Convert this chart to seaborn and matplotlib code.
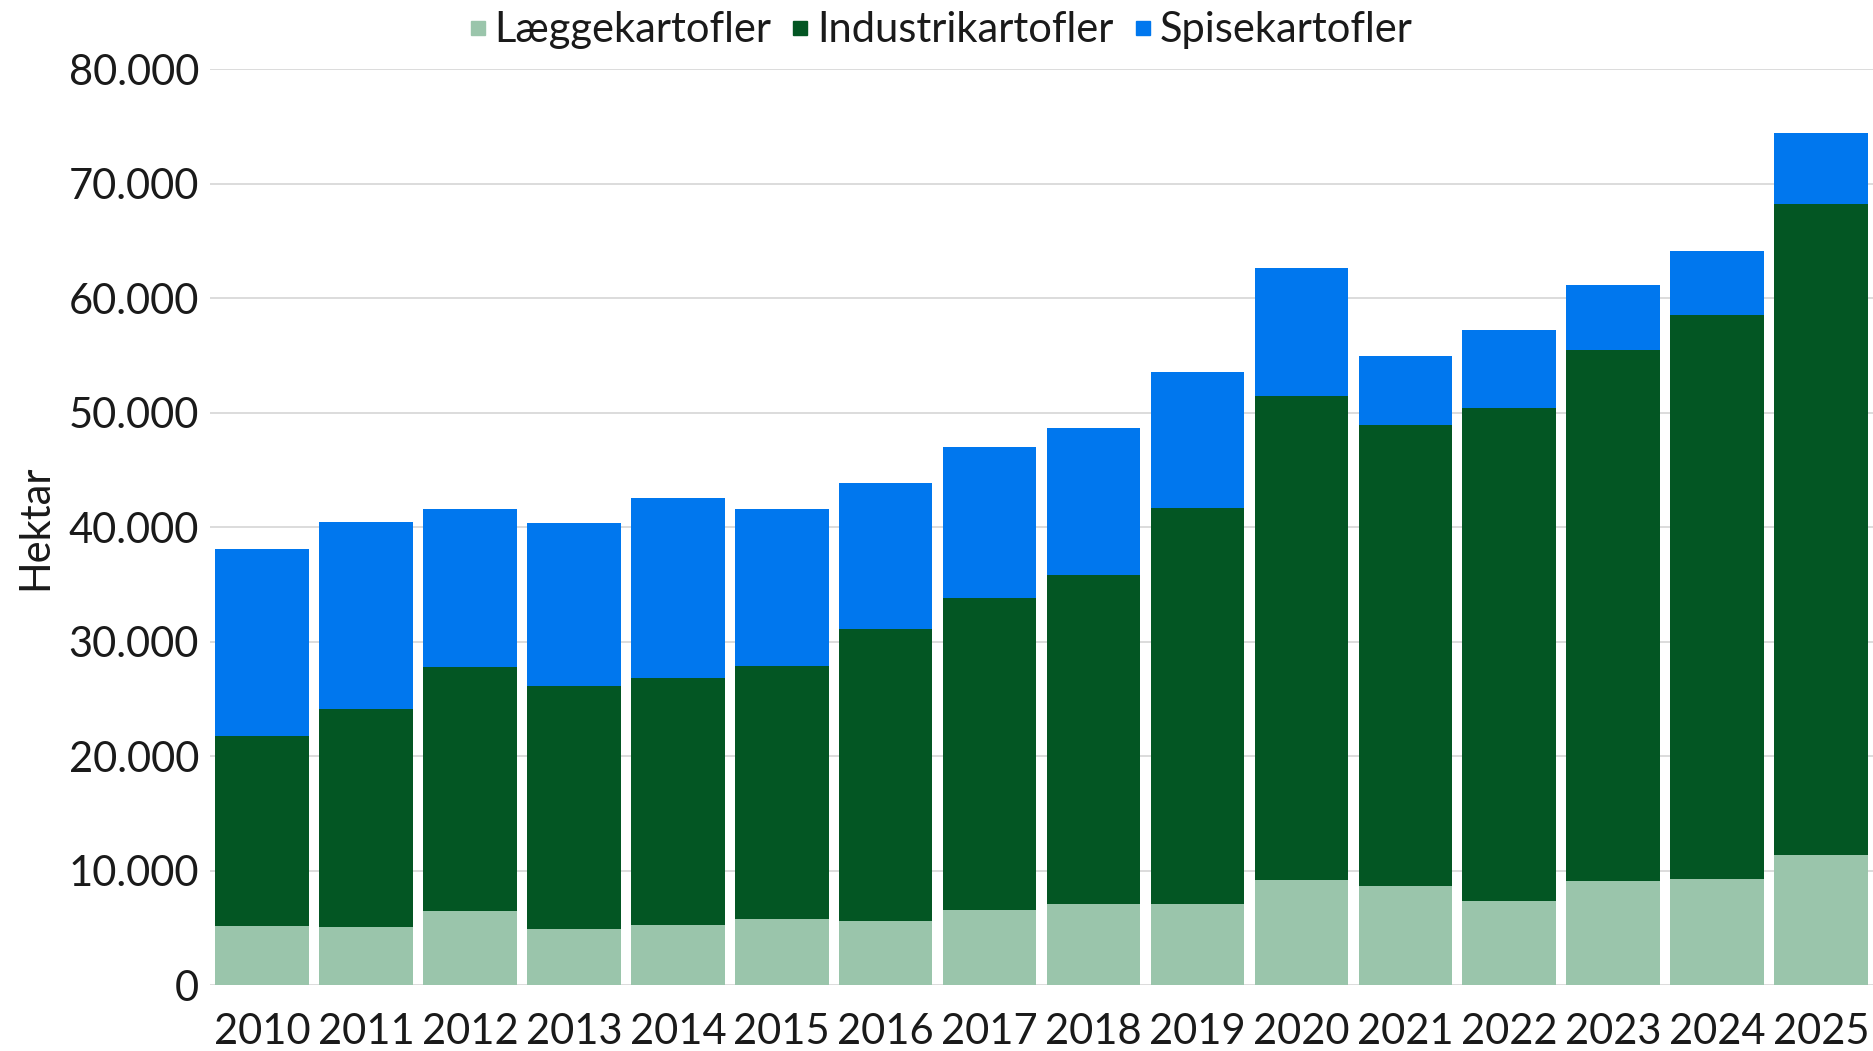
import matplotlib
matplotlib.use("Agg")
import matplotlib.pyplot as plt
from matplotlib.ticker import FuncFormatter, MultipleLocator
from matplotlib.lines import Line2D
import seaborn as sns
import pandas as pd

years = [str(y) for y in range(2010, 2026)]
laeggekartofler = [5200, 5100, 6500, 4900, 5300, 5800, 5600, 6600,
                   7100, 7100, 9200, 8700, 7400, 9100, 9300, 11400]
industrikartofler = [16600, 19000, 21300, 21200, 21500, 22050, 25500, 27200,
                     28700, 34600, 42250, 40200, 43000, 46350, 49250, 56800]
spisekartofler = [16350, 16400, 13800, 14250, 15800, 13750, 12800, 13250,
                  12900, 11900, 11200, 6100, 6800, 5700, 5600, 6200]

series_names = ["Læggekartofler", "Industrikartofler", "Spisekartofler"]
colors = ["#9AC5AB", "#035623", "#0077EE"]

df = pd.DataFrame({
    "År": years,
    "Læggekartofler": laeggekartofler,
    "Industrikartofler": industrikartofler,
    "Spisekartofler": spisekartofler,
})

sns.set_theme(style="white")
plt.rcParams["font.family"] = ["Lato", "DejaVu Sans"]
plt.rcParams["font.weight"] = "normal"

FS = 30
TXT = "#1a1a1a"

fig = plt.figure(figsize=(18.73, 10.51), dpi=100)
ax = fig.add_axes([0.1122, 0.0625, 0.8878, 0.8715])

bottom = pd.Series([0] * len(years), dtype=float)
for name, col in zip(series_names, colors):
    sns.barplot(data=df, x="År", y=name, color=col, width=0.9,
                bottom=bottom.values, ax=ax, zorder=3, linewidth=0,
                saturation=1)
    bottom = bottom + df[name]

ax.set_ylim(0, 80000)
ax.set_xlim(-0.5, 15.5)
ax.yaxis.set_major_locator(MultipleLocator(10000))
ax.yaxis.set_major_formatter(FuncFormatter(lambda v, p: f"{int(v):,}".replace(",", ".")))
ax.grid(axis="y", color="#D6D6D6", linewidth=1.2, zorder=0)
ax.set_axisbelow(True)
for s in ax.spines.values():
    s.set_visible(False)
ax.tick_params(axis="both", length=0, labelsize=FS, colors=TXT)
ax.tick_params(axis="x", pad=20)
ax.tick_params(axis="y", pad=8)
ax.set_xlabel("")
ax.set_ylabel("Hektar", fontsize=FS, color=TXT, labelpad=10)

handles = [Line2D([0], [0], marker="s", linestyle="none", markersize=10,
                  markerfacecolor=c, markeredgecolor=c) for c in colors]
fig.legend(handles, series_names, loc="upper center", ncol=3,
           bbox_to_anchor=(0.5, 1.025), frameon=False, fontsize=FS,
           handletextpad=0.0, columnspacing=0.3, handlelength=0.8,
           labelcolor=TXT)

fig.savefig("out.png", dpi=100)
